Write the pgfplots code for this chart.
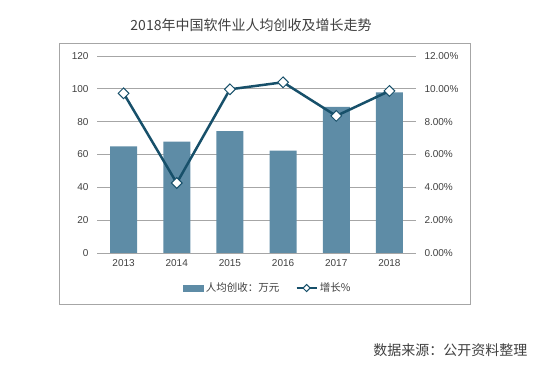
\documentclass[border=0pt]{standalone}
\usepackage{fontspec}
\setmainfont{Liberation Sans}
\newfontfamily\cjk{Noto Sans CJK SC}
\usepackage{pgfplots}
\pgfplotsset{compat=1.18}
\definecolor{barc}{HTML}{5E8CA6}
\definecolor{linec}{HTML}{17506A}
\definecolor{gridc}{HTML}{A6A6A6}
\definecolor{txt}{HTML}{404040}
\begin{document}
\begin{tikzpicture}[x=1pt,y=1pt]
\path[use as bounding box] (0,0) rectangle (554,374);
\draw[gridc, line width=0.8pt] (59.5,70) rectangle (470,331);
\node[text=txt, font=\cjk\fontsize{14}{16}\selectfont] at (251,349) {2018年中国软件业人均创收及增长走势};
\node[text=txt, font=\cjk\fontsize{14}{16}\selectfont, anchor=east] at (531,24) {数据来源：公开资料整理};
\begin{axis}[at={(97pt,121pt)}, anchor=south west, scale only axis, width=319pt, height=197pt,
  xmin=-0.5, xmax=5.5, ymin=0, ymax=120, ytick={0,20,...,120},
  xtick={0,1,2,3,4,5}, xticklabels={2013,2014,2015,2016,2017,2018},
  axis line style={draw=none}, major tick length=0pt,
  ymajorgrids, grid style={gridc, line width=0.8pt},
  /pgf/number format/assume math mode=true,
  ticklabel style={font=\fontsize{10}{12}\selectfont, text=txt},
  yticklabel style={xshift=-5pt}, xticklabel style={yshift=-3pt},
  clip=false]
\addplot[ybar, bar width=27pt, fill=barc, draw=none] coordinates {
(0,65) (1,67.8) (2,74.2) (3,62.4) (4,89) (5,97.9)};
\end{axis}
\begin{axis}[at={(97pt,121pt)}, anchor=south west, scale only axis, width=319pt, height=197pt,
  xmin=-0.5, xmax=5.5, ymin=0, ymax=12, axis y line*=right, axis x line=none,
  y axis line style={draw=none}, major tick length=0pt,
  ytick={0,2,4,6,8,10,12},
  yticklabels={0.00\%,2.00\%,4.00\%,6.00\%,8.00\%,10.00\%,12.00\%},
  ticklabel style={font=\fontsize{10}{12}\selectfont, text=txt},
  yticklabel style={xshift=5pt},
  clip=false,
  legend style={draw=none, fill=none, legend columns=2, at={(0.536,-0.178)}, anchor=center,
    font=\cjk\fontsize{10.5}{12}\selectfont, text=txt,
    /tikz/every even column/.append style={column sep=14pt}}]
\addlegendimage{legend image code/.code={\fill[barc] (0pt,-3pt) rectangle (20pt,3pt);}}
\addlegendentry{人均创收：万元}
\addplot[linec, line width=2.5pt, mark=square*, mark size=3.8pt,
  mark options={rotate=45, fill=white, draw=linec, line width=1pt},
  legend image code/.code={\draw[linec, line width=2.5pt] (0pt,0pt) -- (20pt,0pt);
    \draw[linec, line width=1pt, fill=white, rotate around={45:(10pt,0pt)}] (7.5pt,-2.5pt) rectangle (12.5pt,2.5pt);}]
  coordinates {(0,9.73) (1,4.26) (2,9.97) (3,10.4) (4,8.35) (5,9.87)};
\addlegendentry{增长\%}
\end{axis}
\end{tikzpicture}
\end{document}
